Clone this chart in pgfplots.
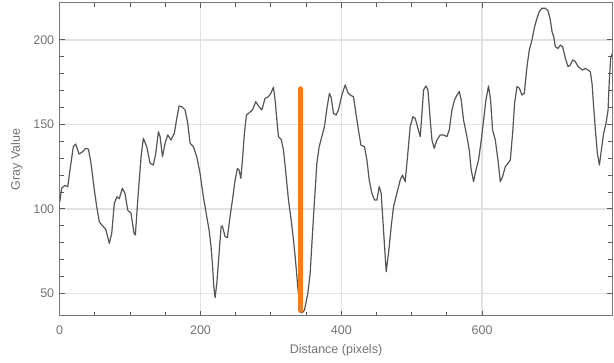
\documentclass[border=0pt]{standalone}
\usepackage{fontspec}
\setmainfont{Liberation Sans}
\usepackage{pgfplots}
\pgfplotsset{compat=1.18}
\definecolor{axgray}{RGB}{120,120,120}
\definecolor{tickgray}{RGB}{90,90,90}
\definecolor{gridgray}{RGB}{226,226,226}
\definecolor{txtgray}{RGB}{115,115,115}
\definecolor{curve}{RGB}{85,85,85}
\definecolor{orng}{RGB}{240,125,35}
\begin{document}
\begin{tikzpicture}
\begin{axis}[
  scale only axis, width=552.6pt, height=313pt,
  xmin=0, xmax=785, ymin=36.6, ymax=221.9,
  xtick={0,200,400,600}, minor x tick num=3,
  ytick={50,100,150,200}, minor y tick num=4,
  xmajorgrids, ymajorgrids,
  major grid style={gridgray, line width=1.3pt},
  axis line style={axgray, line width=1pt},
  tick style={draw=tickgray, line width=1pt},
  major tick length=5pt, minor tick length=4pt,
  tick align=inside,
  /pgf/number format/assume math mode=true,
  ticklabel style={font=\fontsize{12.5}{14}\selectfont, text=txtgray},
  xticklabel style={yshift=-6pt},
  yticklabel style={xshift=-2pt},
  xlabel={Distance (pixels)}, ylabel={Gray Value},
  label style={font=\fontsize{12.5}{14}\selectfont, text=txtgray},
  xlabel style={yshift=-3pt},
  ylabel style={yshift=4pt},
]
\addplot[curve, line width=1.2pt, line join=round] coordinates {
(0,104) (2.8,112.2) (7.5,114) (11.4,113) (14.6,123) (19.3,136.8) (22.7,138.4)
(27.4,132.5) (32.2,133.7) (37,135.9) (40.8,135.4) (44.5,127) (49.2,111.2)
(52.6,101.3) (56.3,92.4) (61,89.9) (65.4,87.9) (70.5,79.6) (73.9,85.5)
(77.6,103.3) (81.4,107.2) (84.6,106) (89,112.2) (92.8,109.2) (96.6,99.3)
(101.3,97.4) (105.6,85.5) (107.5,84.5) (110.9,105.3) (115.6,130.9) (118.8,141.8)
(123.7,136.8) (128.4,127) (133,126) (136.5,132.9) (140.2,145.7) (142.6,142.8)
(146,130.9) (149.7,138.8) (153.5,143.8) (158.2,140.8) (162.9,144.8) (166.3,153.6)
(169.6,160.9) (173.4,160.5) (178.1,158.6) (181.9,150.7) (185.2,138.8) (190,136.8)
(194.7,130.9) (199.4,121) (204.1,107.2) (208.9,95.4) (212.2,87.5) (215,77.6)
(216.9,67.8) (218.9,54) (220.8,47.5) (223.2,56) (226.4,73.7) (229.3,89.5)
(231,89.9) (235,83.5) (238.2,83) (242,95.4) (245.4,105.3) (249.2,117.1)
(252.5,124) (254.8,123) (257.3,118.1) (259.6,128.9) (262.4,144.8) (265.3,155.6)
(269.5,157) (273.8,158.6) (278.6,163.5) (282.4,160.9) (287.1,158.6) (291.8,165.5)
(296.5,166.4) (299.9,168.4) (303.6,172) (306,164.5) (308.5,152.6) (310.7,142.8)
(314.6,141.2) (317.9,134.9) (321.3,121) (325,105.3) (328.8,93.4) (332.1,81.6)
(334.5,71.7) (338,55) (341.6,39) (344.5,38.5) (347.7,40.1) (352.5,50) (355.8,61.9)
(359.1,85.5) (362,105.3) (365.3,127) (368.6,136.8) (372.4,142.8) (376.1,148.7)
(379.5,159.2) (383.2,168.4) (385.6,166) (388.9,156.6) (392.7,155.6) (396,158.6)
(400.8,167.4) (405.6,173.4) (409.4,168.8) (412.7,167.4) (417.3,166.4) (420.8,156.6)
(424.4,146.7) (427.9,137.8) (433,136.8) (436.4,128.9) (439.7,117.1) (443.5,109.2)
(447.2,105.3) (450.6,105.3) (453.9,113.2) (456.7,109.2) (460,87.5) (463.8,62.8)
(467.1,73.7) (470.9,89.5) (474.2,101.3) (479,109.2) (483.7,117.1) (487,120)
(490.8,116.1) (494.1,130.9) (497.9,148.7) (501.8,154.6) (505,153.6) (508.9,147.7)
(512.2,142.8) (514.6,156.6) (516.9,170.4) (520.3,172.8) (523.1,170.4) (526.4,152.6)
(528.8,140.8) (532,135.9) (535.9,140.8) (540.6,143.8) (545.3,143.8) (550.1,142.8)
(553.4,146.7) (557.2,158.6) (560.9,164.5) (564.3,167.4) (567.6,169.4) (570.4,164.5)
(573.7,152.6) (578.5,142.8) (581.8,134.9) (584.6,123) (587.9,116.1) (591.3,123)
(595,128.9) (598.9,140.8) (602.2,152.6) (605.5,164.5) (609.2,172.8) (612.1,164.5)
(614.9,146.7) (618.8,140.8) (622.6,128.9) (625.9,116.1) (629.2,119.1) (633,125)
(636.8,127) (640.1,128.9) (643.4,144.8) (646.2,162.5) (649.6,172.4) (652.9,171.5)
(656.7,167.4) (660,168.4) (663.8,184.2) (667.1,194.1) (670.9,200) (674.6,207.9)
(678,212.8) (681.3,216.8) (685.1,218.8) (689.8,218.8) (693.7,217.3) (697,211.8)
(699.4,204.9) (701.7,202) (704.1,196) (707.9,195) (711.2,197) (714.5,196)
(718.3,189.2) (722.1,184.2) (725.4,185.2) (728.7,188.2) (732.5,187.2) (736.4,184.2)
(739.6,183.2) (742.9,182.2) (746.8,183.2) (750.5,182.2) (753.8,181.2) (756.2,174.4)
(758.5,160.5) (761,146.7) (763.8,132.9) (766.7,126) (769.5,134.9) (772.7,144.8)
(776.1,150.7) (779,158.6) (780.8,176.3) (782.7,189.2) (785,192)
};
\addplot[orng, line width=5.5pt, line cap=round] coordinates {(342,171) (342,40)};
\end{axis}
\pgfresetboundingbox
\path[use as bounding box] (current axis.south west) ++(-59.7pt,-47pt) rectangle ([shift={(1.7pt,3pt)}]current axis.north east);
\end{tikzpicture}
\end{document}
